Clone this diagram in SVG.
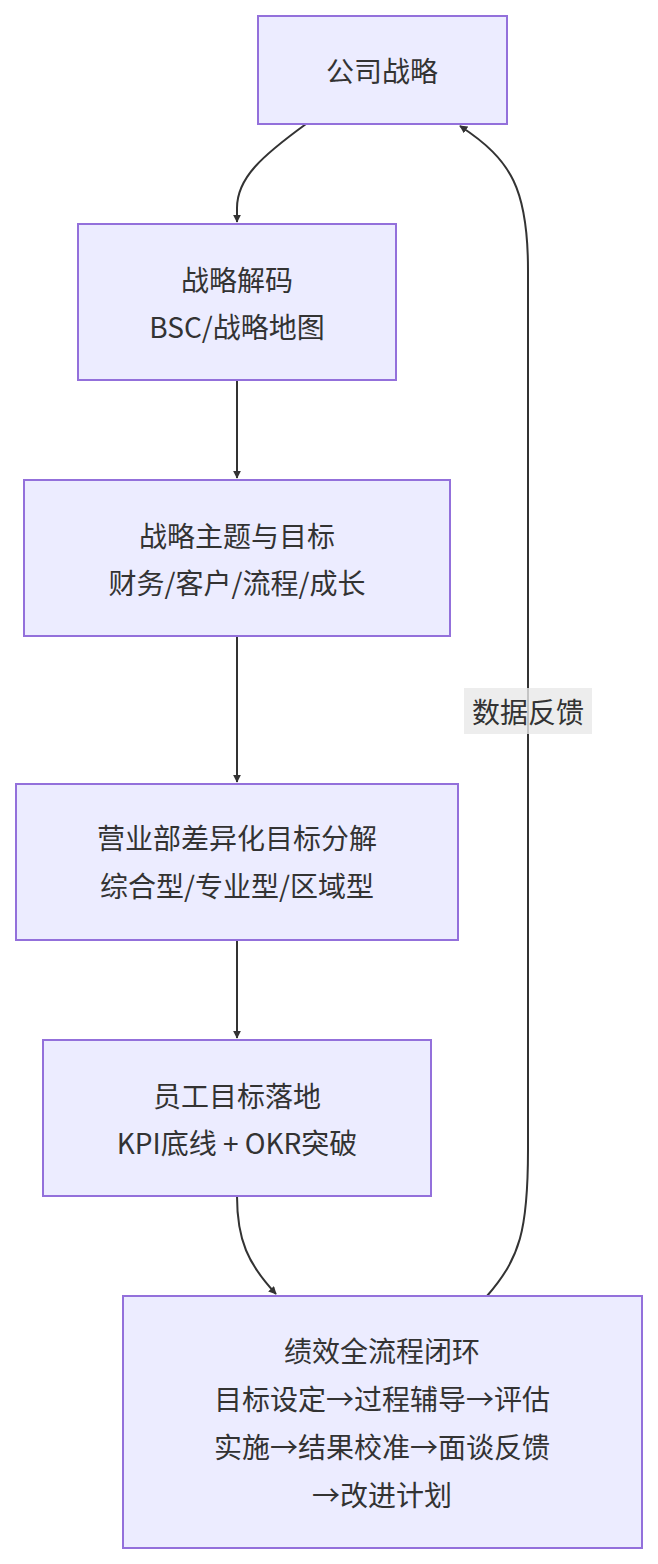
<svg xmlns="http://www.w3.org/2000/svg" width="658" height="1564" viewBox="0 0 658 1564">
<style>
.n rect{fill:#ECECFF;stroke:#9370DB;stroke-width:2}
text{font-family:"Noto Sans CJK SC","Noto Sans",sans-serif;font-size:28px;fill:#333;text-anchor:middle;dominant-baseline:central}
.e path{fill:none;stroke:#333;stroke-width:2;marker-end:url(#a)}
</style>
<defs><marker id="a" viewBox="0 0 10 10" refX="9" refY="5" markerWidth="8" markerHeight="8" markerUnits="userSpaceOnUse" orient="auto"><path d="M0,0L10,5L0,10z" fill="#333"/></marker></defs>
<rect width="658" height="1564" fill="#fff"/>
<g class="e">
<path d="M306,124 C262,156 237,178 237,208 L237,222"/>
<path d="M237,380 L237,478"/>
<path d="M237,636 L237,782"/>
<path d="M237,940 L237,1038"/>
<path d="M237,1196 C237,1240 248,1264 276,1294"/>
<path d="M487,1296 C520,1258 528,1230 528,1150 L528,270 C528,190 512,160 460,126"/>
</g>
<g id="label"><rect x="464" y="688" width="128" height="46" fill="#e8e8e8" opacity="0.8"/><text x="528" y="711">数据反馈</text></g>
<g id="n1" class="n"><rect x="258" y="16" width="249" height="108"/><text x="382" y="70">公司战略</text></g>
<g id="n2" class="n"><rect x="78" y="224" width="318" height="156"/><text x="237" y="279">战略解码</text><text x="237" y="326">BSC/战略地图</text></g>
<g id="n3" class="n"><rect x="24" y="480" width="426" height="156"/><text x="237" y="535">战略主题与目标</text><text x="237" y="582">财务/客户/流程/成长</text></g>
<g id="n4" class="n"><rect x="16" y="784" width="442" height="156"/><text x="237" y="837">营业部差异化目标分解</text><text x="237" y="885">综合型/专业型/区域型</text></g>
<g id="n5" class="n"><rect x="43" y="1040" width="388" height="156"/><text x="237" y="1095">员工目标落地</text><text x="237" y="1142">KPI底线 + OKR突破</text></g>
<g id="n6" class="n"><rect x="123" y="1296" width="519" height="252"/><text x="382" y="1350">绩效全流程闭环</text><text x="382" y="1398">目标设定→过程辅导→评估</text><text x="382" y="1446">实施→结果校准→面谈反馈</text><text x="382" y="1494">→改进计划</text></g>
</svg>
